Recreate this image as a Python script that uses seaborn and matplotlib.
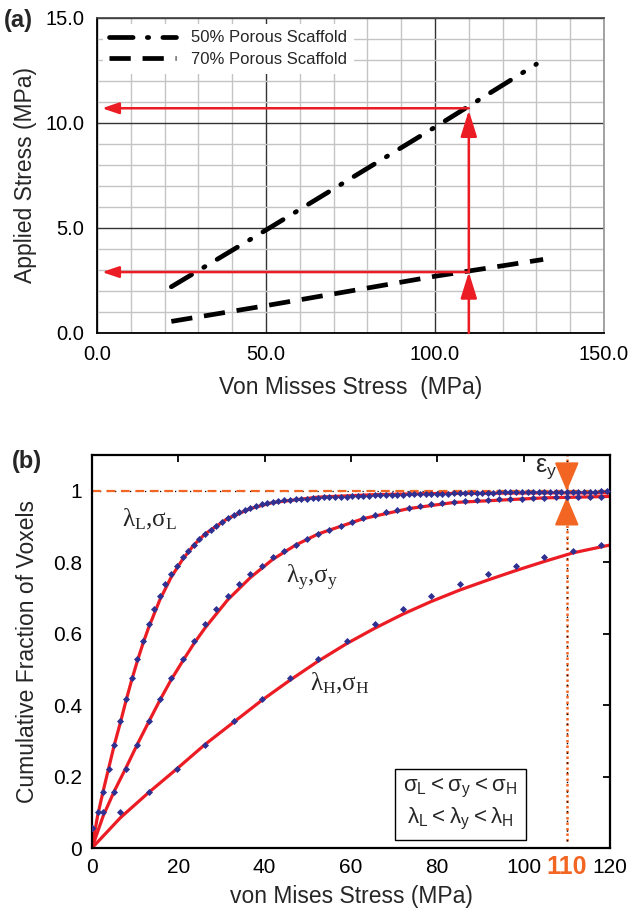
import numpy as np
import pandas as pd
import seaborn as sns
import matplotlib.pyplot as plt
from matplotlib.transforms import blended_transform_factory

sns.set_theme(style="white")
plt.rcParams['font.family'] = ['Liberation Sans', 'DejaVu Sans']

# ---------- panel (a) data ----------
vm_50 = [22, 50, 100, 130]
applied_50 = [2.2, 4.9, 9.8, 12.8]
vm_70 = [22, 50, 100, 132]
applied_70 = [0.55, 1.3, 2.7, 3.5]
yield_vm = 110
applied_50_at_yield = 10.7
applied_70_at_yield = 2.9

# ---------- panel (b) data ----------
# cumulative fraction of voxels read at each marker
cum_frac = [0.055, 0.101, 0.157, 0.220, 0.288, 0.355, 0.418, 0.476, 0.530, 0.580,
            0.627, 0.670, 0.705, 0.739, 0.767, 0.790, 0.814, 0.832, 0.848, 0.865,
            0.879, 0.891, 0.902, 0.913, 0.923, 0.932, 0.940, 0.946, 0.952, 0.957,
            0.962, 0.965, 0.968, 0.971, 0.973, 0.975, 0.976, 0.977, 0.978, 0.979,
            0.980, 0.981, 0.982, 0.982, 0.983, 0.983, 0.984, 0.985, 0.985, 0.986,
            0.987, 0.987, 0.988, 0.988, 0.989, 0.989, 0.990, 0.990, 0.991, 0.991,
            0.991, 0.992, 0.992, 0.992, 0.993, 0.993, 0.993, 0.993, 0.994, 0.994,
            0.994, 0.994, 0.995, 0.995, 0.995, 0.995, 0.995, 0.996, 0.996, 0.996,
            0.996, 0.996, 0.996, 0.997, 0.997, 0.997, 0.997, 0.997, 0.997, 0.997,
            0.998, 0.998]
stress_L = [0, 1.3, 2.6, 3.9, 5.2, 6.6, 7.9, 9.2, 10.5, 11.8, 13.1, 14.4, 15.7, 17.0,
            18.3, 19.7, 21.0, 22.3, 23.6, 24.9, 26.2, 27.5, 28.8, 30.1, 31.4, 32.8,
            34.1, 35.4, 36.7, 38.0, 39.3, 40.6, 41.9, 43.2, 44.5, 45.9, 47.2, 48.5,
            49.8, 51.1, 52.4, 53.7, 55.0, 56.3, 57.6, 59.0, 60.3, 61.6, 62.9, 64.2,
            65.5, 66.8, 68.1, 69.4, 70.7, 72.1, 73.4, 74.7, 76.0, 77.3, 78.6, 79.9,
            81.2, 82.5, 83.8, 85.2, 86.5, 87.8, 89.1, 90.4, 91.7, 93.0, 94.3, 95.6,
            96.9, 98.3, 99.6, 100.9, 102.2, 103.5, 104.8, 106.1, 107.4, 108.7, 110.0,
            111.4, 112.7, 114.0, 115.3, 116.6, 117.9, 119.2]
stress_y = [0, 2.6, 5.2, 7.9, 10.5, 13.1, 15.7, 18.3, 21.0, 23.6, 26.2, 28.8, 31.4,
            34.1, 36.7, 39.3, 41.9, 44.5, 47.2, 49.8, 52.4, 55.0, 57.6, 60.3, 62.9,
            65.5, 68.1, 70.7, 73.4, 76.0, 78.6, 81.2, 83.8, 86.5, 89.1, 91.7, 94.3,
            96.9, 99.6, 102.2, 104.8, 107.4, 110.0, 112.7, 115.3, 117.9]
stress_H = [0, 6.6, 13.1, 19.7, 26.2, 32.8, 39.3, 45.9, 52.4, 59.0, 65.5, 72.1, 78.6,
            85.2, 91.7, 98.3, 104.8, 111.4, 117.9]

# fitted curves (red)
fit_L_x = [0, 1.3, 2.6, 3.9, 5.2, 6.6, 7.9, 9.2, 10.5, 11.8, 13.1, 15.7, 18.3, 21.0,
           23.6, 26.2, 31.4, 36.7, 41.9, 52.4, 65.5, 78.6, 91.7, 104.8, 120]
fit_L = [0, 0.09, 0.16, 0.225, 0.29, 0.352, 0.413, 0.47, 0.523, 0.572, 0.616, 0.694,
         0.757, 0.808, 0.848, 0.879, 0.922, 0.950, 0.967, 0.982, 0.989, 0.992, 0.993,
         0.994, 0.994]
fit_y_x = [0, 2.6, 5.2, 7.9, 10.5, 13.1, 15.7, 18.3, 21.0, 23.6, 26.2, 31.4, 36.7,
           41.9, 47.2, 52.4, 62.9, 73.4, 83.8, 104.8, 120]
fit_y = [0, 0.09, 0.16, 0.225, 0.29, 0.352, 0.413, 0.47, 0.523, 0.572, 0.616, 0.694,
         0.757, 0.808, 0.848, 0.879, 0.922, 0.950, 0.967, 0.980, 0.984]
fit_H_x = [0, 6.6, 13.1, 19.7, 26.2, 32.8, 39.3, 45.9, 52.4, 59.0, 65.5, 72.1, 78.6,
           85.2, 91.7, 98.3, 104.8, 111.4, 120]
fit_H = [0, 0.085, 0.155, 0.222, 0.29, 0.352, 0.413, 0.47, 0.523, 0.572, 0.615, 0.655,
         0.69, 0.722, 0.75, 0.777, 0.802, 0.826, 0.848]

red = '#ec1c24'
orange = '#f26522'
blue = '#2e3192'

fig = plt.figure(figsize=(6.33, 9.16), dpi=100)

# ================= panel (a) =================
ax = fig.add_axes([0.1532, 0.6365, 0.801, 0.3439])
ax.set_xlim(0, 150)
ax.set_ylim(0, 15)
ax.set_xticks([0, 50, 100, 150])
ax.set_yticks([0, 5, 10, 15])
ax.set_xticks(np.arange(0, 151, 10), minor=True)
ax.set_yticks(np.arange(0, 16, 1), minor=True)
ax.xaxis.set_major_formatter(plt.FormatStrFormatter('%.1f'))
ax.yaxis.set_major_formatter(plt.FormatStrFormatter('%.1f'))
ax.grid(which='minor', color='#c4c4c4', lw=1.0)
ax.grid(which='major', color='#333333', lw=1.0)
ax.set_axisbelow(True)
ax.tick_params(which='minor', length=0)
ax.tick_params(which='major', direction='out', length=4, width=1, labelsize=14.5,
               colors='black', pad=5)
for s in ['left', 'bottom']:
    ax.spines[s].set_color('black')
    ax.spines[s].set_linewidth(1.3)
ax.spines['top'].set_color('#444444')
ax.spines['right'].set_color('#999999')

sns.lineplot(x=vm_50, y=applied_50, ax=ax, color='black', linewidth=3.4,
             linestyle=(0, (5, 3, 0.3, 3)), dash_capstyle='round',
             label='50% Porous Scaffold')
sns.lineplot(x=vm_70, y=applied_70, ax=ax, color='black', linewidth=3.4,
             linestyle=(0, (4.5, 2.5)), label='70% Porous Scaffold')

# red arrows
head_v = '-|>,head_length=0.8,head_width=0.25'
head_h = '-|>,head_length=0.5,head_width=0.17'
ax.annotate('', xy=(yield_vm, applied_70_at_yield), xytext=(yield_vm, 0),
            arrowprops=dict(arrowstyle=head_v, color=red, lw=1.8, mutation_scale=20,
                            shrinkA=0, shrinkB=0))
ax.annotate('', xy=(yield_vm, applied_50_at_yield - 0.1),
            xytext=(yield_vm, applied_70_at_yield),
            arrowprops=dict(arrowstyle=head_v, color=red, lw=1.8, mutation_scale=20,
                            shrinkA=0, shrinkB=0))
for yy in [applied_50_at_yield, applied_70_at_yield]:
    ax.annotate('', xy=(1.5, yy), xytext=(yield_vm, yy),
                arrowprops=dict(arrowstyle=head_h, color=red, lw=1.8,
                                mutation_scale=20, shrinkA=0, shrinkB=0))

leg = ax.legend(loc='upper left', bbox_to_anchor=(0.0, 1.0), fontsize=12,
                handlelength=4.0, frameon=True, facecolor='white', edgecolor='none',
                framealpha=1, borderaxespad=0.35, labelspacing=0.4, handletextpad=0.9)
ax.set_xlabel('Von Misses Stress  (MPa)', fontsize=16.5, labelpad=8)
ax.set_ylabel('Applied Stress (MPa)', fontsize=16.5, labelpad=6)
fig.text(0.006, 0.990, '(a)', fontsize=17, fontweight='bold', va='top')

# ================= panel (b) =================
bx = fig.add_axes([0.1453, 0.0742, 0.8183, 0.4291])
bx.set_xlim(0, 120)
bx.set_ylim(0, 1.1)
bx.set_xticks([0, 20, 40, 60, 80, 100, 120])
bx.set_yticks([0, 0.2, 0.4, 0.6, 0.8, 1.0])
bx.set_yticklabels(['0', '0.2', '0.4', '0.6', '0.8', '1'])
bx.tick_params(direction='in', length=5, width=1.3, top=True, right=True,
               labelsize=15, colors='black', pad=7)
for s in bx.spines.values():
    s.set_color('black')
    s.set_linewidth(1.6)

# reference lines
bx.axhline(1.0, color='black', lw=0.9, ls=(0, (1, 5)))
bx.axhline(1.0, color=orange, lw=1.6, ls=(0, (4, 2.5)))
bx.plot([yield_vm, yield_vm], [0.02, 1.1], color=orange, lw=1.8, ls=(0, (1, 1.2)))
bx.plot([yield_vm, yield_vm], [0.02, 1.1], color='black', lw=1.0, ls=(0, (1, 6)))

for fx, fy in [(fit_L_x, fit_L), (fit_y_x, fit_y), (fit_H_x, fit_H)]:
    sns.lineplot(x=fx, y=fy, ax=bx, color=red, linewidth=2.3, sort=False)

markers = pd.concat([
    pd.DataFrame({'stress': stress_L, 'frac': cum_frac[:len(stress_L)], 'fit': 'L'}),
    pd.DataFrame({'stress': stress_y, 'frac': cum_frac[:len(stress_y)], 'fit': 'y'}),
    pd.DataFrame({'stress': stress_H, 'frac': cum_frac[:len(stress_H)], 'fit': 'H'}),
])
sns.scatterplot(data=markers, x='stress', y='frac', ax=bx, color=blue, marker='D',
                s=13, linewidth=0, zorder=5, legend=False)

# epsilon_y arrows
head_e = '-|>,head_length=0.9,head_width=0.38'
bx.annotate('', xy=(yield_vm, 0.999), xytext=(yield_vm, 1.058),
            arrowprops=dict(arrowstyle=head_e, color=orange, lw=1.5, mutation_scale=20,
                            shrinkA=0, shrinkB=0))
bx.annotate('', xy=(yield_vm, 0.983), xytext=(yield_vm, 0.92),
            arrowprops=dict(arrowstyle=head_e, color=orange, lw=1.5, mutation_scale=20,
                            shrinkA=0, shrinkB=0))
bx.text(107.8, 1.062, r'$\mathregular{\varepsilon_y}$', fontsize=18, ha='right',
        va='center')

bx.text(7, 0.92, r'$\mathregular{\lambda_L{,}\sigma_L}$', fontsize=18,
        family='Liberation Serif', va='center')
bx.text(45, 0.755, r'$\mathregular{\lambda_y{,}\sigma_y}$', fontsize=18,
        family='Liberation Serif', va='center')
bx.text(50.5, 0.46, r'$\mathregular{\lambda_H{,}\sigma_H}$', fontsize=18,
        family='Liberation Serif', va='center')

bx.text(85.4, 0.122,
        '$\\mathregular{\\sigma_L<\\sigma_y<\\sigma_H}$\n'
        '$\\mathregular{\\lambda_L<\\lambda_y<\\lambda_H}$',
        fontsize=16, ha='center', va='center', linespacing=1.3,
        bbox=dict(boxstyle='square,pad=0.38', fc='white', ec='black', lw=1.0))

trans = blended_transform_factory(bx.transData, bx.transAxes)
bx.text(yield_vm, -0.018, '110', transform=trans, color=orange, fontsize=18,
        fontweight='bold', ha='center', va='top')

bx.set_xlabel('von Mises Stress (MPa)', fontsize=16.5, labelpad=6)
bx.set_ylabel('Cumulative Fraction of Voxels', fontsize=16.5, labelpad=10)
fig.text(0.018, 0.509, '(b)', fontsize=17, fontweight='bold', va='top')

fig.savefig('out.png', dpi=100)
